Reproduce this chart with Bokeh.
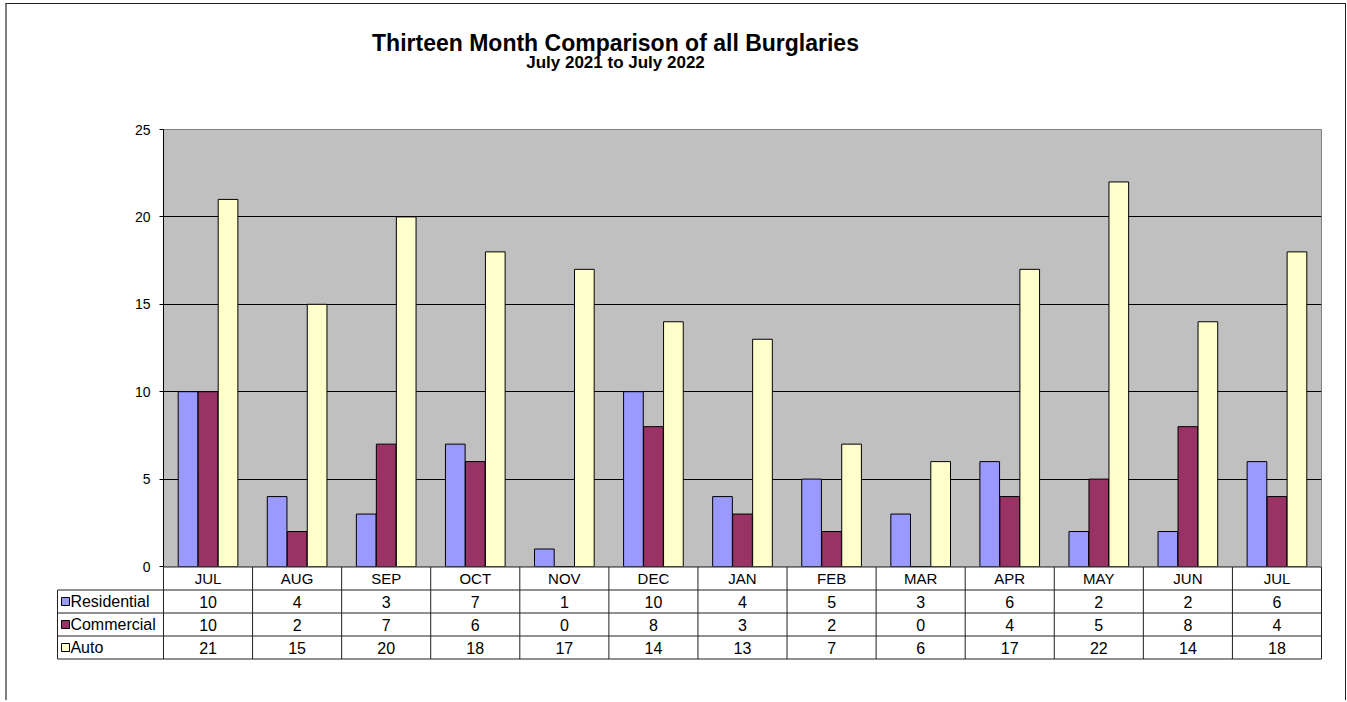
from bokeh.plotting import figure
from bokeh.models import Range1d, ColumnDataSource, FixedTicker
from bokeh.layouts import column
from bokeh.transform import dodge
from bokeh.embed import file_html
from bokeh.resources import INLINE
from bokeh.core.properties import value

# ---------------- data ----------------
months = ["JUL", "AUG", "SEP", "OCT", "NOV", "DEC", "JAN", "FEB", "MAR", "APR", "MAY", "JUN", "JUL"]
residential = [10, 4, 3, 7, 1, 10, 4, 5, 3, 6, 2, 2, 6]
commercial = [10, 2, 7, 6, 0, 8, 3, 2, 0, 4, 5, 8, 4]
auto = [21, 15, 20, 18, 17, 14, 13, 7, 6, 17, 22, 14, 18]
series_names = ["Residential", "Commercial", "Auto"]
series_colors = ["#9999FF", "#993366", "#FFFFCC"]
y_ticks = [0, 5, 10, 15, 20, 25]
title_text = "Thirteen Month Comparison of all Burglaries"
subtitle_text = "July 2021 to July 2022"

FONT = "Liberation Sans"
W = 1338
series_values = [residential, commercial, auto]
idx = list(range(len(months)))

# ---------------- title strip ----------------
p0 = figure(width=W, height=100, x_range=Range1d(0, W), y_range=Range1d(100, 0),
            x_axis_type=None, y_axis_type=None, output_backend="svg", toolbar_location=None,
            min_border_left=0, min_border_right=0, min_border_top=0, min_border_bottom=0)
p0.frame_align = False
p0.outline_line_color = None
p0.background_fill_color = None
p0.border_fill_color = None
p0.xgrid.visible = False
p0.ygrid.visible = False
p0.text(x=[608], y=[38], text=[title_text], text_align="center", text_baseline="alphabetic",
        text_font=value(FONT), text_font_size="23px", text_font_style="bold", text_color="black")
p0.text(x=[608], y=[58], text=[subtitle_text], text_align="center", text_baseline="alphabetic",
        text_font=value(FONT), text_font_size="17px", text_font_style="bold", text_color="black")

# ---------------- main chart ----------------
p1 = figure(width=W, height=474, x_range=Range1d(-0.5, 12.5), y_range=Range1d(0, 25),
            x_axis_type=None, output_backend="svg", toolbar_location=None,
            min_border_left=156, min_border_right=24, min_border_top=25, min_border_bottom=12)
p1.frame_align = False
p1.background_fill_color = "#C0C0C0"
p1.border_fill_color = None
p1.outline_line_color = "#808080"
p1.outline_line_width = 1

p1.yaxis.ticker = FixedTicker(ticks=y_ticks)
p1.ygrid.ticker = FixedTicker(ticks=y_ticks)
p1.ygrid.grid_line_color = "black"
p1.ygrid.grid_line_width = 1
p1.yaxis.axis_line_color = "black"
p1.yaxis.major_tick_line_color = "black"
p1.yaxis.major_tick_out = 4
p1.yaxis.major_tick_in = 0
p1.yaxis.minor_tick_line_color = None
p1.yaxis.major_label_text_font = FONT
p1.yaxis.major_label_text_font_size = "14px"
p1.yaxis.major_label_text_color = "black"
p1.yaxis.major_label_standoff = 9

src = ColumnDataSource(dict(x=idx, Residential=residential, Commercial=commercial, Auto=auto))
offsets = [-0.2245, 0.0, 0.2245]
for name, color, off in zip(series_names, series_colors, offsets):
    p1.vbar(x=dodge("x", off, range=p1.x_range), top=name, bottom=0, width=0.221,
            source=src, fill_color=color, line_color="black", line_width=1)

# ---------------- data table ----------------
legend_left = -1.69
p2 = figure(width=W, height=134, x_range=Range1d(-1.7012, 12.5112), y_range=Range1d(4.065, -0.0217),
            x_axis_type=None, y_axis_type=None, output_backend="svg", toolbar_location=None,
            min_border_left=49, min_border_right=23, min_border_top=0, min_border_bottom=40,
            styles={"margin-top": "-12px"})
p2.frame_align = False
p2.outline_line_color = None
p2.background_fill_color = None
p2.border_fill_color = None
p2.xgrid.visible = False
p2.ygrid.visible = False

n = len(months)
nrows = len(series_names)
LINE = "#202020"
# horizontal rules
hx0 = [-0.5] + [legend_left] * (nrows + 1)
hx1 = [n - 0.5] * (nrows + 2)
hy = list(range(nrows + 2))
p2.segment(x0=hx0, y0=hy, x1=hx1, y1=hy, line_color=LINE, line_width=1)
# vertical rules
vx = [k - 0.5 for k in range(n + 1)] + [legend_left]
vy0 = [0] * (n + 1) + [1]
vy1 = [nrows + 1] * (n + 2)
p2.segment(x0=vx, y0=vy0, x1=vx, y1=vy1, line_color=LINE, line_width=1)

# month labels
p2.text(x=idx, y=[0.5] * n, text=months, text_align="center", text_baseline="middle",
        text_font=value(FONT), text_font_size="15px", text_color="black")
# values
for r, vals in enumerate(series_values):
    p2.text(x=idx, y=[r + 1.5] * n, text=[str(v) for v in vals], text_align="center",
            text_baseline="middle", text_font=value(FONT), text_font_size="16px", text_color="black")

# legend keys
key_y = [r + 1.5 for r in range(nrows)]
p2.scatter(x=[-1.60] * nrows, y=key_y, marker="square", size=8, fill_color=series_colors,
           line_color="black", line_width=1)
p2.text(x=[-1.545] * nrows, y=key_y, text=series_names, text_align="left", text_baseline="middle",
        text_font=value(FONT), text_font_size="16px", text_color="black")

layout = column(p0, p1, p2, styles={"margin-left": "5px", "margin-top": "3px",
                                    "border-left": "2px solid #808080", "border-top": "1px solid #202020",
                                    "border-right": "1px solid #202020"})

open("out.html", "w").write(file_html(layout, INLINE))
